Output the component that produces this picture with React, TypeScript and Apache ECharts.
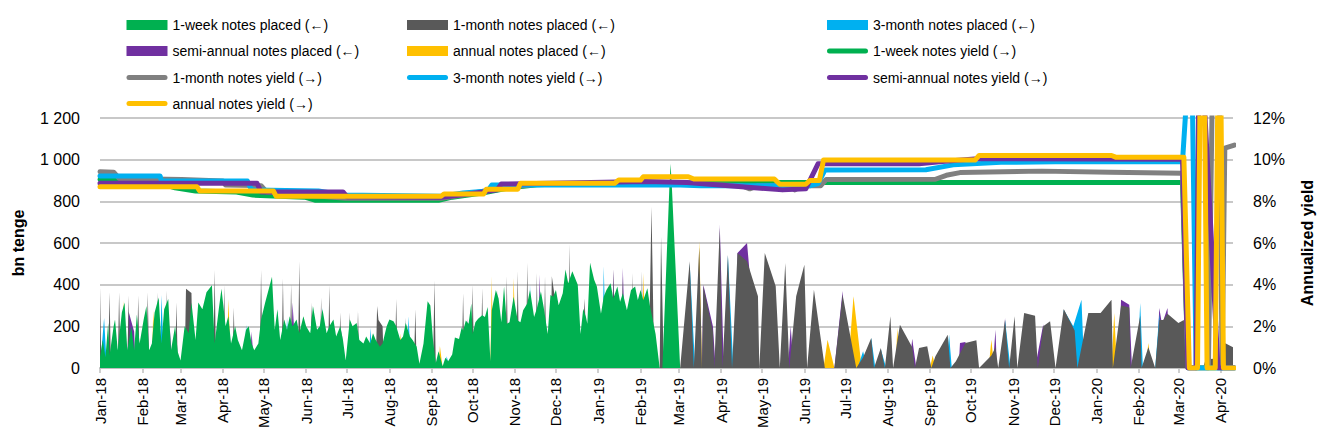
import React, { useEffect, useRef } from 'react';
import * as echarts from 'echarts';

const FONT = "'Liberation Sans Narrow', 'Arial Narrow', 'Liberation Sans', Arial, sans-serif";
const MONTHS = ['Jan', 'Feb', 'Mar', 'Apr', 'May', 'Jun', 'Jul', 'Aug', 'Sep', 'Oct', 'Nov', 'Dec'];

// Series names (legend texts)
const N_W1P = '1-week notes placed (←)';
const N_M1P = '1-month notes placed (←)';
const N_M3P = '3-month notes placed (←)';
const N_SAP = 'semi-annual notes placed (←)';
const N_ANP = 'annual notes placed (←)';
const N_W1Y = '1-week notes yield (→)';
const N_M1Y = '1-month notes yield (→)';
const N_M3Y = '3-month notes yield (→)';
const N_SAY = 'semi-annual notes yield (→)';
const N_ANY = 'annual notes yield (→)';

// Each point: [days since 1 Jan 2018, value]
// bn tenge placed
const week1Placed: [number, number][] = [
  [0,52],[2,134],[4,52],[6,216],[7,60],[10,200],[11,233],[13,85],[16,266],[18,315],[20,85],[23,200],[25,85],[27,257],[29,118],[32,233],[34,298],[36,85],[38,118],[40,266],[43,339],[45,118],[47,282],[50,331],[52,85],[55,200],[57,77],[59,36],[62,200],[65,167],[67,315],[70,134],[72,315],[75,282],[78,364],[82,397],[84,118],[87,282],[89,380],[92,200],[94,249],[96,118],[99,200],[101,134],[104,85],[107,184],[109,200],[111,118],[113,85],[116,118],[118,233],[121,315],[123,364],[126,438],[128,184],[130,282],[132,134],[135,233],[137,184],[139,249],[141,200],[144,233],[146,167],[149,249],[151,200],[154,167],[156,298],[159,184],[161,200],[163,282],[166,167],[168,200],[171,233],[173,151],[176,200],[178,134],[180,36],[183,233],[185,200],[188,216],[190,134],[193,118],[195,151],[198,118],[200,167],[202,134],[205,102],[207,118],[210,200],[212,233],[215,224],[217,200],[220,134],[222,151],[224,216],[227,151],[229,134],[232,102],[234,20],[237,118],[240,320],[242,300],[244,130],[246,24],[248,81],[251,8],[253,49],[255,33],[258,65],[260,147],[263,139],[265,196],[266,179],[268,228],[270,212],[272,310],[273,163],[275,220],[277,236],[280,253],[282,245],[284,293],[286,33],[287,277],[290,375],[292,334],[294,220],[296,391],[298,212],[300,220],[303,342],[306,228],[308,220],[310,277],[313,310],[315,375],[318,245],[320,285],[323,367],[325,293],[328,163],[330,350],[332,342],[334,375],[336,301],[339,359],[341,473],[343,407],[346,465],[350,400],[352,163],[354,285],[356,245],[357,212],[359,505],[362,424],[364,391],[367,261],[369,342],[371,375],[374,407],[376,334],[379,391],[381,318],[383,359],[386,277],[389,375],[392,391],[394,326],[396,375],[398,326],[401,383],[403,293],[407,163],[410,0],[412,0],[417,850],[418,980],[419,860],[425,0]
];

const month1Placed: [number, number][] = [
  [0,389],[1,0],[6,0],[7,364],[8,0],[13,0],[14,364],[15,0],[20,0],[21,348],[22,0],[27,0],[28,348],[29,0],[34,0],[35,364],[36,0],[41,0],[42,364],[43,0],[48,0],[49,372],[50,0],[55,0],[56,315],[57,0],[62,0],[63,380],[67,360],[68,0],[83,0],[84,470],[85,0],[90,0],[91,397],[92,0],[97,0],[98,290],[99,0],[117,0],[118,470],[119,0],[133,0],[134,430],[135,0],[139,0],[140,405],[141,0],[145,0],[146,512],[147,0],[154,0],[155,315],[156,0],[161,0],[162,339],[163,0],[167,0],[168,397],[169,0],[175,0],[176,266],[177,0],[182,0],[183,266],[184,0],[188,0],[189,274],[190,0],[202,0],[203,298],[204,230],[207,200],[208,0],[216,0],[217,331],[218,0],[223,0],[224,241],[225,0],[230,0],[231,282],[232,0],[244,0],[245,420],[246,0],
  [265,0],[266,359],[267,0],[272,0],[273,400],[274,0],[279,0],[280,383],[281,0],[290,0],[291,375],[292,0],[297,0],[298,440],[299,0],[305,0],[306,465],[307,0],[312,0],[313,505],[314,0],[319,0],[320,456],[321,0],[325,0],[326,440],[327,0],[330,0],[331,440],[334,300],[335,0],[343,0],[344,595],[345,0],[353,0],[355,334],[357,0],[375,0],[376,473],[377,0],[382,0],[383,440],[384,0],[389,0],[390,456],[391,0],[396,0],[397,465],[398,0],[402,0],[404,774],[406,0],[410,0],[411,630],[413,0],
  [425,0],[432,512],[435,0],[439,580],[441,0],[442,392],[449,176],[450,0],[454,672],[456,0],[460,544],[463,0],[467,552],[474,512],[482,344],[483,0],[487,552],[495,392],[498,0],[502,504],[505,0],[510,344],[516,496],[518,0],[523,376],[531,0],[538,0],[544,352],[554,0],[559,50],[565,144],[567,0],[572,96],[575,0],[579,248],[581,0],[586,208],[595,100],[597,0],[600,96],[606,104],[609,0],[612,56],[621,160],[623,0],[627,32],[634,120],[642,133],[644,0],[653,60],[656,100],[658,0],[663,232],[666,0],[670,248],[672,0],[677,264],[685,251],[687,0],[691,200],[696,224],[700,0],[706,283],[714,180],[716,0],[724,264],[733,264],[741,328],[742,0],[748,300],[754,290],[755,0],[762,250],[763,0],[768,100],[773,0],[776,230],[779,230],[782,260],[790,216],[794,230],[796,0],[808,0],[810,42],[816,45],[818,0],[822,0],[824,120],[831,96]
];

const month3Placed: [number, number][] = [
  [0,0],[3,240],[5,0],[44,0],[45,350],[47,0],[106,0],[107,208],[109,0],[136,0],[137,241],[139,0],[162,0],[163,290],[165,0],[197,0],[198,192],[200,0],[225,0],[226,249],[228,0],[253,0],[254,57],[256,0],[314,0],[315,400],[317,0],[368,0],[369,489],[371,0],
  [430,0],[432,500],[436,0],[457,0],[460,540],[464,0],[555,0],[559,80],[562,0],[565,144],[568,0],[572,90],[576,0],[620,0],[622,160],[624,0],[662,0],[663,230],[667,0],[704,0],[706,280],[713,200],[719,328],[721,0],[760,0],[762,312],[764,0],[773,0],[776,260],[778,0]
];

const semiPlaced: [number, number][] = [
  [20,0],[21,270],[25,175],[26,0],[50,0],[51,208],[53,0],[110,0],[111,175],[113,0],[140,0],[141,315],[144,0],[176,0],[177,184],[179,0],[268,0],[269,236],[271,0],[321,0],[322,448],[324,0],[375,0],[376,473],[378,0],[382,0],[383,481],[385,0],
  [441,0],[442,400],[449,200],[451,0],[453,0],[454,690],[457,0],[466,0],[467,552],[474,600],[478,300],[480,0],[504,0],[506,200],[508,0],[538,0],[544,370],[547,0],[593,0],[595,140],[598,0],[629,0],[630,120],[634,125],[636,0],[654,0],[656,184],[657,0],[661,0],[663,240],[665,0],[685,0],[691,210],[693,0],[746,0],[748,328],[754,304],[756,0],[774,0],[776,288],[778,210],[782,288],[784,0]
];

const annualPlaced: [number, number][] = [
  [16,0],[17,323],[19,0],[38,0],[39,274],[41,0],[71,0],[72,150],[74,0],[93,0],[94,331],[96,0],[190,0],[191,126],[193,0],[219,0],[220,167],[222,0],[248,0],[249,106],[251,0],[286,0],[287,440],[288,0],[294,0],[295,301],[297,0],[302,0],[303,432],[305,0],[397,0],[398,456],[400,0],
  [437,0],[439,610],[441,0],[530,0],[533,136],[538,0],[548,0],[552,344],[558,0],[583,0],[584,192],[586,0],[608,0],[610,60],[612,0],[651,0],[653,136],[655,0],[741,0],[743,264],[745,0],[766,0],[768,120],[770,0]
];

// Annualized yield, %
const week1Yield: [number, number][] = [
  [0,9.05],[12,9.0],[40,8.95],[55,8.65],[70,8.5],[100,8.45],[112,8.3],[150,8.2],[158,8.05],[248,8.05],[258,8.2],[280,8.4],[300,8.65],[320,8.8],[350,8.85],[420,8.88],[500,8.9],[528,8.9],[793,8.9],[797,0],[831,0]
];
const month1Yield: [number, number][] = [
  [0,9.42],[10,9.4],[14,9.1],[60,9.05],[90,8.98],[92,8.78],[118,8.75],[122,8.45],[160,8.25],[180,8.15],[250,8.15],[270,8.35],[290,8.6],[320,8.82],[430,8.85],[470,8.75],[476,8.6],[482,8.75],[505,8.78],[509,8.55],[514,8.75],[528,8.75],[532,9.05],[612,9.06],[620,9.25],[630,9.38],[690,9.45],[740,9.4],[793,9.35],[797,0],[812,0],[815,14],[820,14],[822,0],[824,10.55],[831,10.7]
];
const month3Yield: [number, number][] = [
  [0,9.22],[44,9.22],[45,8.98],[108,8.98],[111,8.55],[160,8.5],[178,8.3],[250,8.25],[266,8.4],[284,8.5],[287,8.78],[420,8.8],[440,8.75],[520,8.75],[526,8.85],[531,9.5],[605,9.52],[625,9.75],[660,9.87],[700,9.9],[793,9.9],[797,14],[800,14],[803,0],[831,0]
];
const semiYield: [number, number][] = [
  [0,8.87],[115,8.87],[118,8.45],[178,8.45],[181,8.22],[250,8.2],[270,8.35],[291,8.55],[294,8.83],[400,8.95],[430,8.9],[470,8.7],[500,8.55],[517,8.6],[526,9.8],[600,9.8],[615,9.9],[643,10.05],[793,10.02],[797,0],[803,0],[805,14],[808,14],[819,0],[831,0]
];
const annualYield: [number, number][] = [
  [0,8.7],[71,8.7],[73,8.5],[127,8.5],[129,8.25],[250,8.25],[252,8.35],[281,8.35],[283,8.58],[306,8.58],[308,8.87],[377,8.87],[380,9.02],[396,9.02],[398,9.18],[431,9.18],[435,9.07],[494,9.07],[498,8.82],[517,8.82],[520,9.0],[527,9.0],[530,9.98],[641,9.98],[644,10.2],[741,10.2],[744,10.12],[794,10.12],[798,0],[804,0],[806,14],[809,14],[811,0],[817,0],[819,14],[821,14],[823,0],[831,0]
];

const leftTicks = [0, 200, 400, 600, 800, 1000, 1200];

const C_GREEN = '#00B050';
const C_DGRAY = '#595959';
const C_LGRAY = '#808080';
const C_BLUE = '#00B0F0';
const C_PURPLE = '#7030A0';
const C_YELLOW = '#FFC000';

const toTime = (d: number) => new Date(2018, 0, 1 + d).getTime();
const toData = (arr: [number, number][]) => arr.map(([d, v]) => [toTime(d), v]);

const LINE_ICON = 'path://M2.5,0 L38.5,0 A2.5,2.5 0 0 1 38.5,5 L2.5,5 A2.5,2.5 0 0 1 2.5,0 Z';

function legendItem(name: string, left: number, centerY: number, isLine: boolean) {
  return {
    show: true,
    selectedMode: false,
    left,
    top: centerY - 9,
    padding: 0,
    itemGap: 0,
    itemWidth: 41,
    itemHeight: isLine ? 5 : 10,
    data: [{ name, icon: isLine ? LINE_ICON : 'rect' }],
    textStyle: { fontSize: 14, fontFamily: FONT, color: '#000', lineHeight: 18 },
  };
}

function areaSeries(name: string, color: string, data: [number, number][]) {
  return {
    name,
    type: 'line',
    data: toData(data),
    color,
    itemStyle: { color },
    showSymbol: false,
    symbol: 'none',
    lineStyle: { width: 0, color },
    areaStyle: { color, opacity: 1 },
    yAxisIndex: 0,
    silent: true,
  };
}

function yieldSeries(name: string, color: string, data: [number, number][]) {
  return {
    name,
    type: 'line',
    data: toData(data),
    color,
    itemStyle: { color },
    showSymbol: false,
    symbol: 'none',
    lineStyle: { width: 5, color, cap: 'round', join: 'round' },
    yAxisIndex: 1,
    silent: true,
  };
}

export default function App() {
  const ref = useRef<HTMLDivElement>(null);
  useEffect(() => {
    if (!ref.current) return;
    const chart = echarts.init(ref.current, undefined, { renderer: 'svg' });
    const COL1 = 126.5, COL2 = 407, COL3 = 827;
    const R1 = 25, R2 = 51, R3 = 77.5, R4 = 103.5;
    chart.setOption({
      animation: false,
      backgroundColor: '#ffffff',
      textStyle: { fontFamily: FONT },
      legend: [
        legendItem(N_W1P, COL1, R1, false),
        legendItem(N_M1P, COL2, R1, false),
        legendItem(N_M3P, COL3, R1, false),
        legendItem(N_SAP, COL1, R2, false),
        legendItem(N_ANP, COL2, R2, false),
        legendItem(N_W1Y, COL3, R2, true),
        legendItem(N_M1Y, COL1, R3, true),
        legendItem(N_M3Y, COL2, R3, true),
        legendItem(N_SAY, COL3, R3, true),
        legendItem(N_ANY, COL1, R4, true),
      ],
      grid: { left: 100, right: 93, top: 118, bottom: 74, containLabel: false, outerBoundsMode: 'none' },
      xAxis: {
        type: 'time',
        min: toTime(0),
        max: new Date(2020, 3, 10).getTime(),
        splitNumber: 28,
        minInterval: 28 * 86400000,
        maxInterval: 31 * 86400000,
        axisLine: { show: true, lineStyle: { color: '#bfbfbf', width: 2 } },
        axisTick: { show: true, length: 5, lineStyle: { color: '#bfbfbf', width: 1.5 } },
        splitLine: { show: false },
        axisLabel: {
          rotate: 90,
          margin: 10,
          fontSize: 15,
          fontFamily: FONT,
          color: '#000',
          hideOverlap: false,
          showMinLabel: true,
          showMaxLabel: false,
          formatter: (v: number) => {
            const dt = new Date(v);
            return MONTHS[dt.getMonth()] + '-' + String(dt.getFullYear()).slice(2);
          },
        },
      },
      yAxis: [
        {
          type: 'value',
          min: leftTicks[0],
          max: leftTicks[leftTicks.length - 1],
          interval: 200,
          position: 'left',
          name: 'bn tenge',
          nameLocation: 'middle',
          nameGap: 74,
          nameRotate: 90,
          nameTextStyle: { fontWeight: 'bold', fontSize: 16, fontFamily: FONT, color: '#000' },
          axisLine: { show: false },
          axisTick: { show: false },
          axisLabel: {
            margin: 20,
            fontSize: 16,
            fontFamily: FONT,
            color: '#000',
            formatter: (v: number) => (v >= 1000 ? `${Math.floor(v / 1000)} ${String(v % 1000).padStart(3, '0')}` : String(v)),
          },
          splitLine: { show: true, lineStyle: { color: '#c8c8c8', width: 2 } },
        },
        {
          type: 'value',
          min: 0,
          max: 12,
          interval: 2,
          position: 'right',
          name: 'Annualized yield',
          nameLocation: 'middle',
          nameGap: 66,
          nameRotate: 90,
          nameTextStyle: { fontWeight: 'bold', fontSize: 16, fontFamily: FONT, color: '#000' },
          axisLine: { show: false },
          axisTick: { show: false },
          axisLabel: { margin: 20, fontSize: 16, fontFamily: FONT, color: '#000', formatter: '{value}%' },
          splitLine: { show: false },
        },
      ],
      series: [
        areaSeries(N_ANP, C_YELLOW, annualPlaced),
        areaSeries(N_SAP, C_PURPLE, semiPlaced),
        areaSeries(N_M3P, C_BLUE, month3Placed),
        areaSeries(N_M1P, C_DGRAY, month1Placed),
        areaSeries(N_W1P, C_GREEN, week1Placed),
        yieldSeries(N_W1Y, C_GREEN, week1Yield),
        yieldSeries(N_M1Y, C_LGRAY, month1Yield),
        yieldSeries(N_M3Y, C_BLUE, month3Yield),
        yieldSeries(N_SAY, C_PURPLE, semiYield),
        yieldSeries(N_ANY, C_YELLOW, annualYield),
      ],
    });
    return () => chart.dispose();
  }, []);
  return <div ref={ref} style={{ position: 'fixed', left: 0, top: 0, width: 1326, height: 442 }} />;
}
